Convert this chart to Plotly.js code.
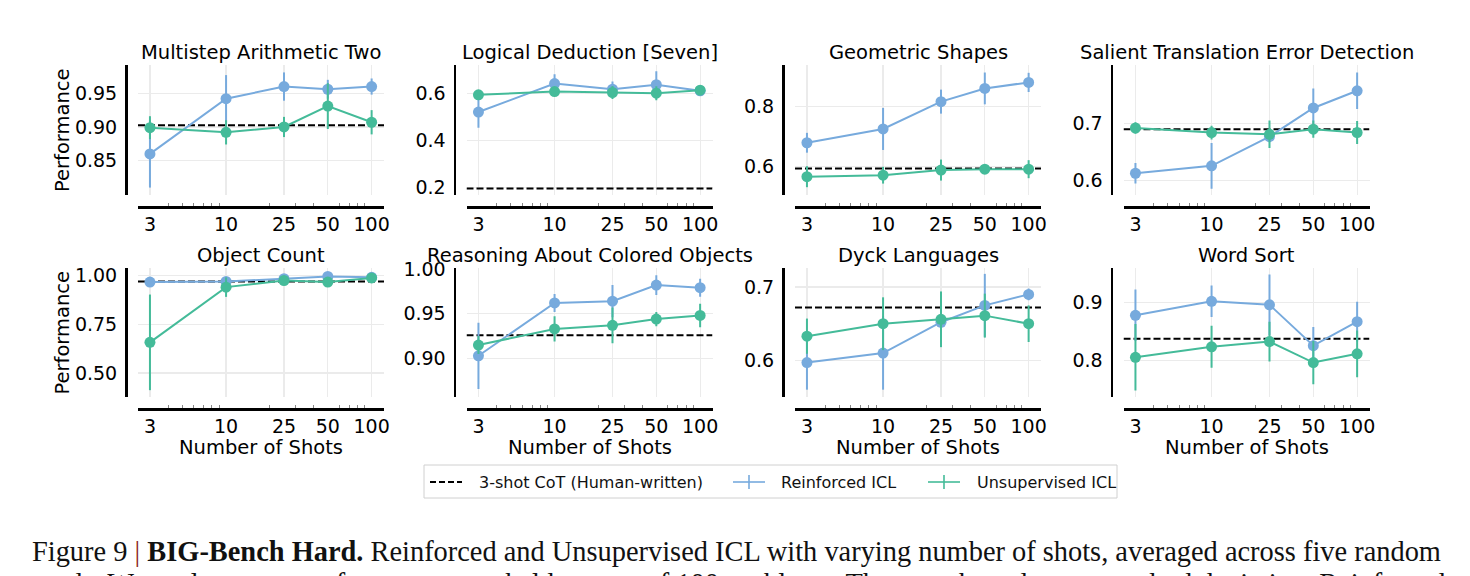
<!DOCTYPE html>
<html>
<head>
<meta charset="utf-8">
<script src="https://cdn.plot.ly/plotly-3.0.1.min.js"></script>
<style>
  html, body { margin: 0; padding: 0; background: #fff; }
  #chart { width: 1470px; height: 576px; }
</style>
</head>
<body>
<div id="chart"></div>
<script>
// ---- data: BIG-Bench Hard, performance vs number of shots ----
const shots = [3, 10, 25, 50, 100];
const shotLabels = ['3', '10', '25', '50', '100'];
const minorShots = [4, 5, 6, 7, 8, 9, 20, 30, 40, 60, 70, 80, 90];

const taskNames = [
  'Multistep Arithmetic Two', 'Logical Deduction [Seven]', 'Geometric Shapes',
  'Salient Translation Error Detection', 'Object Count',
  'Reasoning About Colored Objects', 'Dyck Languages', 'Word Sort'
];

// 3-shot CoT with human-written rationales (dashed reference line)
const cotBaseline = [0.9025, 0.195, 0.594, 0.690, 0.969, 0.926, 0.672, 0.838];

// Reinforced ICL: mean and standard deviation over five seeds
const reinforcedMean = [
  [0.860, 0.942, 0.960, 0.956, 0.960],
  [0.520, 0.641, 0.617, 0.636, 0.610],
  [0.680, 0.726, 0.817, 0.861, 0.881],
  [0.613, 0.626, 0.677, 0.727, 0.757],
  [0.966, 0.969, 0.983, 0.995, 0.990],
  [0.903, 0.962, 0.964, 0.982, 0.979],
  [0.597, 0.610, 0.652, 0.675, 0.690],
  [0.878, 0.902, 0.896, 0.826, 0.867]
];
const reinforcedStd = [
  [0.050, 0.035, 0.021, 0.014, 0.012],
  [0.067, 0.040, 0.033, 0.057, 0.020],
  [0.033, 0.070, 0.040, 0.053, 0.032],
  [0.018, 0.040, 0.010, 0.034, 0.032],
  [0.008, 0.008, 0.008, 0.008, 0.006],
  [0.037, 0.010, 0.018, 0.011, 0.010],
  [0.037, 0.050, 0.010, 0.043, 0.008],
  [0.044, 0.027, 0.052, 0.032, 0.034]
];

// Unsupervised ICL: mean and standard deviation over five seeds
const unsupervisedMean = [
  [0.899, 0.892, 0.900, 0.931, 0.907],
  [0.593, 0.607, 0.603, 0.600, 0.613],
  [0.567, 0.572, 0.589, 0.592, 0.592],
  [0.692, 0.684, 0.681, 0.690, 0.684],
  [0.657, 0.940, 0.974, 0.966, 0.987],
  [0.915, 0.933, 0.937, 0.944, 0.948],
  [0.633, 0.650, 0.656, 0.661, 0.650],
  [0.806, 0.824, 0.833, 0.797, 0.812]
];
const unsupervisedStd = [
  [0.017, 0.018, 0.015, 0.034, 0.018],
  [0.020, 0.012, 0.028, 0.030, 0.015],
  [0.035, 0.028, 0.035, 0.010, 0.030],
  [0.010, 0.012, 0.024, 0.015, 0.020],
  [0.245, 0.050, 0.010, 0.010, 0.008],
  [0.010, 0.014, 0.020, 0.008, 0.013],
  [0.024, 0.036, 0.038, 0.030, 0.025],
  [0.057, 0.036, 0.034, 0.037, 0.040]
];

const yTickVals = [
  [0.85, 0.90, 0.95], [0.2, 0.4, 0.6], [0.6, 0.8], [0.6, 0.7],
  [0.50, 0.75, 1.00], [0.90, 0.95, 1.00], [0.6, 0.7], [0.8, 0.9]
];
const yTickText = [
  ['0.85', '0.90', '0.95'], ['0.2', '0.4', '0.6'], ['0.6', '0.8'], ['0.6', '0.7'],
  ['0.50', '0.75', '1.00'], ['0.90', '0.95', '1.00'], ['0.6', '0.7'], ['0.8', '0.9']
];

const seriesNames = ['3-shot CoT (Human-written)', 'Reinforced ICL', 'Unsupervised ICL'];
const captionLine1 = 'Figure 9 <span style="color:#8a1c1c">|</span> <b>BIG-Bench Hard.</b> Reinforced and Unsupervised ICL with varying number of shots, averaged across five random';
const captionLine2 = 'seeds. We evaluate test performance on a held-out set of 100 problems. The error bars denote standard deviation. Reinforced';

// ---- styling and geometry ----
const W = 1470, H = 576;
const FONT = 'DejaVu Sans, sans-serif';
const BLUE = '#77aadd', GREEN = '#44bb99';
const GRID = '#ebebeb';
const colLeft = [138, 466.5, 795, 1123.5];
const plotW = 246;
const rowTop = [65, 268];
const plotH = [130, 129];
const spineGap = 12;
const xRangeLog = [0.395, 2.085];
const yRanges = [
  [0.799, 0.992], [0.167, 0.72], [0.506, 0.939], [0.575, 0.802],
  [0.377, 1.038], [0.857, 1.001], [0.550, 0.726], [0.738, 0.959]
];

const px = v => v / W;
const py = v => (H - v) / H;

const traces = [];
const shapes = [];
const annotations = [];
const layout = {
  width: W, height: H,
  margin: { l: 0, r: 0, t: 0, b: 0 },
  paper_bgcolor: '#fff', plot_bgcolor: '#fff',
  showlegend: false,
  font: { family: FONT, color: '#000' }
};

taskNames.forEach((name, i) => {
  const row = Math.floor(i / 4), col = i % 4;
  const sfx = i === 0 ? '' : String(i + 1);
  const left = colLeft[col], top = rowTop[row], h = plotH[row];

  layout['xaxis' + sfx] = {
    type: 'log',
    domain: [px(left), px(left + plotW)],
    range: xRangeLog,
    anchor: 'free',
    position: py(top + h + spineGap),
    tickmode: 'array', tickvals: shots, ticktext: shotLabels,
    ticks: '', ticklabelstandoff: 0,
    showline: true, linecolor: '#000', linewidth: 2.5,
    showgrid: true, gridcolor: GRID, gridwidth: 1.2,
    zeroline: false,
    tickfont: { family: FONT, size: 19, color: '#000' },
    minor: { tickmode: 'array', tickvals: minorShots, ticks: 'inside', ticklen: 3,
             tickwidth: 1, tickcolor: '#888', showgrid: false },
    fixedrange: true
  };
  layout['yaxis' + sfx] = {
    domain: [py(top + h), py(top)],
    range: yRanges[i],
    anchor: 'free',
    position: px(left - spineGap),
    tickmode: 'array', tickvals: yTickVals[i], ticktext: yTickText[i],
    ticks: '', ticklabelstandoff: 4,
    showline: true, linecolor: '#000', linewidth: 2.5,
    showgrid: true, gridcolor: GRID, gridwidth: 1.2,
    zeroline: false,
    tickfont: { family: FONT, size: 19, color: '#000' },
    fixedrange: true
  };

  // dashed CoT reference spanning the full x range of the panel
  traces.push({
    type: 'scatter', mode: 'lines', name: seriesNames[0],
    x: [Math.pow(10, xRangeLog[0]), Math.pow(10, xRangeLog[1])],
    y: [cotBaseline[i], cotBaseline[i]],
    xaxis: 'x' + sfx, yaxis: 'y' + sfx,
    line: { color: '#000', width: 2, dash: '7px,3px' },
    hoverinfo: 'skip'
  });

  const series = [
    { mean: reinforcedMean[i], std: reinforcedStd[i], color: BLUE, name: seriesNames[1] },
    { mean: unsupervisedMean[i], std: unsupervisedStd[i], color: GREEN, name: seriesNames[2] }
  ];
  series.forEach(s => {
    traces.push({
      type: 'scatter', mode: 'lines+markers', name: s.name,
      x: shots, y: s.mean,
      xaxis: 'x' + sfx, yaxis: 'y' + sfx,
      line: { color: s.color, width: 2 },
      marker: { color: s.color, size: 11 },
      error_y: { type: 'data', array: s.std, visible: true, color: s.color, thickness: 2, width: 0 },
      hoverinfo: 'skip'
    });
  });

  // panel title
  annotations.push({
    text: name, xref: 'paper', yref: 'paper',
    x: px(left + plotW / 2), y: py(top - 12.5),
    xanchor: 'center', yanchor: 'middle', showarrow: false,
    font: { family: FONT, size: 19.5, color: '#000' }
  });
  if (col === 0) {
    annotations.push({
      text: 'Performance', xref: 'paper', yref: 'paper',
      x: px(62), y: py(top + h / 2), textangle: -90,
      xanchor: 'center', yanchor: 'middle', showarrow: false,
      font: { family: FONT, size: 19.5, color: '#000' }
    });
  }
  if (row === 1) {
    annotations.push({
      text: 'Number of Shots', xref: 'paper', yref: 'paper',
      x: px(left + plotW / 2), y: py(447),
      xanchor: 'center', yanchor: 'middle', showarrow: false,
      font: { family: FONT, size: 19.5, color: '#000' }
    });
  }
});

// ---- legend box ----
const legY = 482;
shapes.push({
  type: 'rect', xref: 'paper', yref: 'paper', layer: 'above',
  x0: px(424), x1: px(1117), y0: py(465), y1: py(498),
  line: { color: '#d0d0d0', width: 1 }, fillcolor: 'rgba(255,255,255,0)'
});
const legendItems = [
  { x0: 430, x1: 462, tx: 477, color: '#000', dash: '6px,3px', cross: false },
  { x0: 733, x1: 765, tx: 779, color: BLUE, dash: 'solid', cross: true },
  { x0: 928, x1: 960, tx: 975, color: GREEN, dash: 'solid', cross: true }
];
legendItems.forEach((it, k) => {
  shapes.push({
    type: 'line', xref: 'paper', yref: 'paper', layer: 'above',
    x0: px(it.x0), x1: px(it.x1), y0: py(legY), y1: py(legY),
    line: { color: it.color, width: it.cross ? 1.6 : 2, dash: it.dash }
  });
  if (it.cross) {
    const cx = (it.x0 + it.x1) / 2;
    shapes.push({
      type: 'line', xref: 'paper', yref: 'paper', layer: 'above',
      x0: px(cx), x1: px(cx), y0: py(legY - 7), y1: py(legY + 7),
      line: { color: it.color, width: 1.6 }
    });
  }
  annotations.push({
    text: seriesNames[k], xref: 'paper', yref: 'paper',
    x: px(it.tx), y: py(legY), xanchor: 'left', yanchor: 'middle', showarrow: false,
    font: { family: FONT, size: 16, color: '#111' }
  });
});

// ---- caption ----
annotations.push({
  text: captionLine1, xref: 'paper', yref: 'paper',
  x: px(30), y: py(551), xanchor: 'left', yanchor: 'middle', showarrow: false,
  font: { family: 'Liberation Serif, serif', size: 28.4, color: '#111' }
});
annotations.push({
  text: captionLine2, xref: 'paper', yref: 'paper',
  x: px(30), y: py(583), xanchor: 'left', yanchor: 'middle', showarrow: false,
  font: { family: 'Liberation Serif, serif', size: 28.4, color: '#111' }
});

layout.shapes = shapes;
layout.annotations = annotations;

Plotly.newPlot('chart', traces, layout, { staticPlot: true, displayModeBar: false });
</script>
</body>
</html>
